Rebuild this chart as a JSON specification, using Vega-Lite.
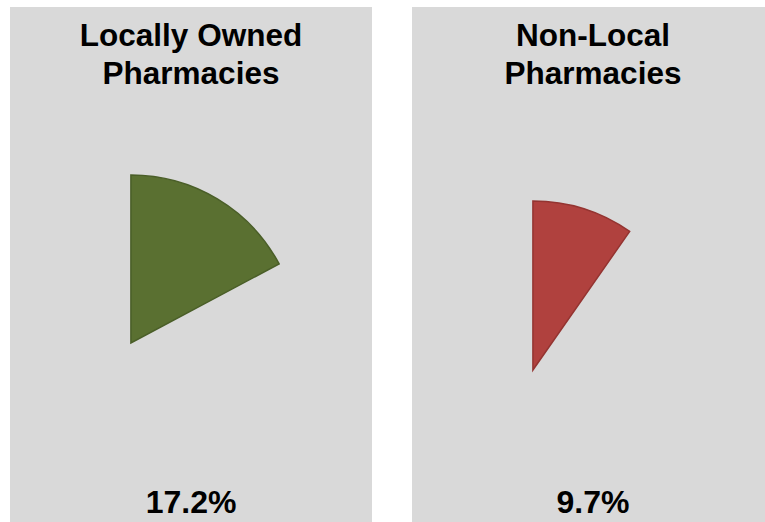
{
  "$schema": "https://vega.github.io/schema/vega-lite/v6.json",
  "width": 765,
  "height": 522,
  "autosize": {"type": "fit", "contains": "padding"},
  "padding": {"left": 10, "top": 7, "right": 0, "bottom": 0},
  "background": "white",
  "config": {"view": {"stroke": null}},
  "data": {
    "values": [
      {"group": "Locally Owned Pharmacies", "title": ["Locally Owned", "Pharmacies"], "share": 17.2, "label": "17.2%"},
      {"group": "Non-Local Pharmacies", "title": ["Non-Local", "Pharmacies"], "share": 9.7, "label": "9.7%"}
    ]
  },
  "encoding": {
    "x": {
      "field": "group",
      "type": "nominal",
      "sort": null,
      "axis": null,
      "scale": {"range": [0, 764], "paddingInner": 0.0995, "paddingOuter": 0}
    }
  },
  "layer": [
    {
      "mark": {"type": "rect", "color": "#d9d9d9"},
      "encoding": {}
    },
    {
      "transform": [{"filter": "datum.group === 'Locally Owned Pharmacies'"}],
      "mark": {"type": "arc", "outerRadius": 168, "stroke": "#4a5e28", "strokeWidth": 1.5},
      "encoding": {
        "x": {"field": "group", "type": "nominal", "bandPosition": 0.334},
        "y": {"datum": 65.24, "type": "quantitative", "scale": {"domain": [0, 100], "reverse": true}, "axis": null},
        "theta": {"field": "share", "type": "quantitative", "scale": {"domain": [0, 100], "range": [0, 6.283185]}},
        "color": {"field": "group", "type": "nominal", "scale": {"domain": ["Locally Owned Pharmacies", "Non-Local Pharmacies"], "range": ["#5a7031", "#b0413e"]}, "legend": null}
      }
    },
    {
      "transform": [{"filter": "datum.group === 'Non-Local Pharmacies'"}],
      "mark": {"type": "arc", "outerRadius": 169, "stroke": "#943431", "strokeWidth": 1.5},
      "encoding": {
        "x": {"field": "group", "type": "nominal", "bandPosition": 0.334},
        "y": {"datum": 70.49, "type": "quantitative"},
        "theta": {"field": "share", "type": "quantitative", "scale": {"domain": [0, 100], "range": [0, 6.283185]}},
        "color": {"field": "group", "type": "nominal", "legend": null}
      }
    },
    {
      "mark": {"type": "text", "font": "Liberation Sans", "fontWeight": "bold", "fontSize": 31.5, "lineHeight": 38, "align": "center", "baseline": "alphabetic", "color": "#000000"},
      "encoding": {
        "x": {"field": "group", "type": "nominal", "bandPosition": 0.5},
        "y": {"datum": 7.5, "type": "quantitative"},
        "text": {"field": "title", "type": "nominal"}
      }
    },
    {
      "mark": {"type": "text", "font": "Liberation Sans", "fontWeight": "bold", "fontSize": 32, "align": "center", "baseline": "alphabetic", "color": "#000000"},
      "encoding": {
        "x": {"field": "group", "type": "nominal", "bandPosition": 0.5},
        "y": {"datum": 98.25, "type": "quantitative"},
        "text": {"field": "label", "type": "nominal"}
      }
    }
  ]
}
